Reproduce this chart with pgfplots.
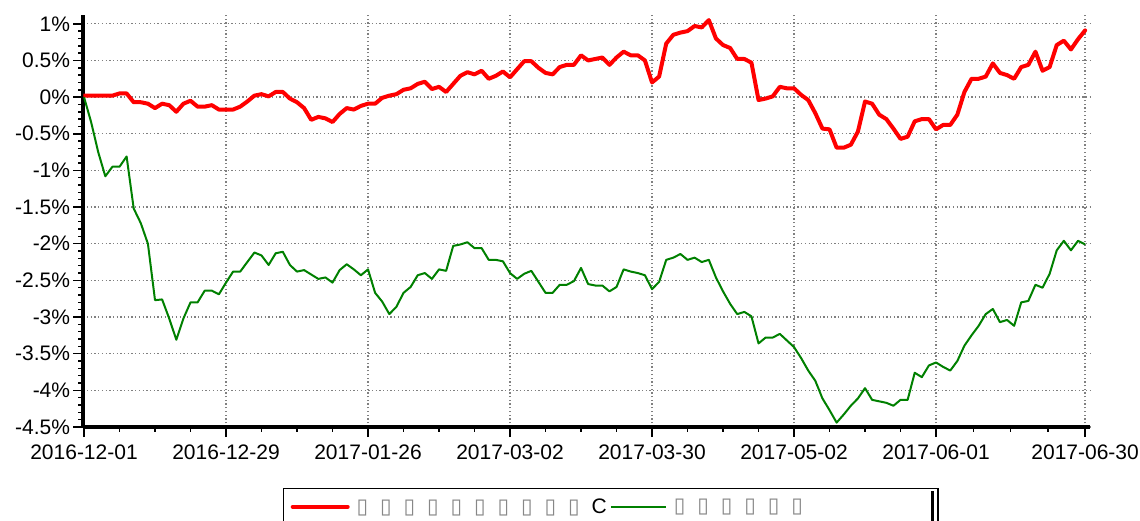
\documentclass[border=0pt]{standalone}
\usepackage{pgfplots}
\pgfplotsset{compat=1.18}
\usepackage{pgfplotstable}
\usepackage{fontspec}
\setmainfont{Liberation Sans}
\newfontfamily\dejavu{DejaVu Sans}
\definecolor{lgreen}{RGB}{0,128,0}
\definecolor{gridgray}{RGB}{128,128,128}
\definecolor{boxgray}{RGB}{135,135,135}
\newcommand{\bx}{\hbox to 23.5bp{\textcolor{boxgray}{\dejavu ▯}\hss}}

\pgfplotstableread{
i r g
0 0.02 0
1 0.02 -0.34
2 0.02 -0.75
3 0.02 -1.08
4 0.02 -0.95
5 0.05 -0.95
6 0.05 -0.81
7 -0.07 -1.52
8 -0.07 -1.72
9 -0.09 -2.00
10 -0.15 -2.77
11 -0.09 -2.76
12 -0.11 -3.02
13 -0.20 -3.31
14 -0.09 -3.02
15 -0.05 -2.80
16 -0.13 -2.80
17 -0.13 -2.64
18 -0.11 -2.64
19 -0.17 -2.69
20 -0.17 -2.53
21 -0.17 -2.38
22 -0.13 -2.38
23 -0.06 -2.25
24 0.02 -2.12
25 0.04 -2.16
26 0.01 -2.29
27 0.07 -2.13
28 0.07 -2.11
29 -0.02 -2.29
30 -0.07 -2.38
31 -0.15 -2.36
32 -0.31 -2.42
33 -0.27 -2.48
34 -0.29 -2.46
35 -0.34 -2.53
36 -0.23 -2.36
37 -0.15 -2.28
38 -0.17 -2.35
39 -0.12 -2.43
40 -0.09 -2.35
41 -0.09 -2.67
42 -0.01 -2.79
43 0.02 -2.96
44 0.04 -2.86
45 0.10 -2.67
46 0.12 -2.59
47 0.18 -2.43
48 0.21 -2.40
49 0.11 -2.48
50 0.14 -2.35
51 0.07 -2.37
52 0.18 -2.03
53 0.29 -2.01
54 0.34 -1.98
55 0.31 -2.06
56 0.36 -2.06
57 0.25 -2.22
58 0.29 -2.22
59 0.35 -2.24
60 0.27 -2.40
61 0.38 -2.48
62 0.49 -2.41
63 0.49 -2.37
64 0.40 -2.52
65 0.33 -2.67
66 0.31 -2.67
67 0.41 -2.56
68 0.44 -2.56
69 0.44 -2.51
70 0.57 -2.33
71 0.50 -2.55
72 0.52 -2.57
73 0.54 -2.57
74 0.44 -2.65
75 0.54 -2.59
76 0.62 -2.35
77 0.57 -2.38
78 0.57 -2.40
79 0.50 -2.43
80 0.20 -2.62
81 0.28 -2.52
82 0.73 -2.22
83 0.85 -2.19
84 0.88 -2.14
85 0.90 -2.22
86 0.97 -2.19
87 0.95 -2.25
88 1.05 -2.22
89 0.80 -2.46
90 0.71 -2.65
91 0.67 -2.82
92 0.52 -2.96
93 0.52 -2.93
94 0.47 -2.99
95 -0.04 -3.36
96 -0.02 -3.28
97 0.01 -3.28
98 0.14 -3.23
99 0.12 -3.32
100 0.12 -3.41
101 0.03 -3.56
102 -0.04 -3.73
103 -0.22 -3.87
104 -0.43 -4.11
105 -0.44 -4.27
106 -0.69 -4.44
107 -0.69 -4.33
108 -0.65 -4.21
109 -0.47 -4.11
110 -0.06 -3.97
111 -0.09 -4.13
112 -0.24 -4.15
113 -0.30 -4.17
114 -0.43 -4.21
115 -0.57 -4.13
116 -0.54 -4.13
117 -0.33 -3.76
118 -0.30 -3.82
119 -0.30 -3.66
120 -0.44 -3.62
121 -0.38 -3.68
122 -0.38 -3.73
123 -0.24 -3.60
124 0.07 -3.39
125 0.25 -3.25
126 0.25 -3.12
127 0.28 -2.96
128 0.46 -2.89
129 0.33 -3.07
130 0.30 -3.04
131 0.25 -3.12
132 0.41 -2.80
133 0.44 -2.78
134 0.62 -2.56
135 0.36 -2.60
136 0.41 -2.41
137 0.71 -2.09
138 0.77 -1.96
139 0.65 -2.09
140 0.79 -1.96
141 0.91 -2.01
}\data

\begin{document}
\begin{tikzpicture}
\useasboundingbox (0,0) rectangle (1140bp,521bp);
\clip (0,0) rectangle (1140bp,521bp);
\begin{axis}[
  at={(83.3bp,94bp)}, anchor=south west, scale only axis,
  width=1006.8bp, height=412bp,
  xmin=-0.1, xmax=141.7, ymin=-4.5, ymax=1.12,
  axis x line*=bottom, axis y line*=left,
  axis line style={-, black},
  x axis line style={line width=3.6bp},
  y axis line style={line width=3.6bp},
  xtick={0,20,40,60,80,100,120,141},
  xticklabels={2016-12-01,2016-12-29,2017-01-26,2017-03-02,2017-03-30,2017-05-02,2017-06-01,2017-06-30},
  minor xtick={5,10,15,25,30,35,45,50,55,65,70,75,85,90,95,105,110,115,125.25,130.5,135.75},
  ytick={-4.5,-4,-3.5,-3,-2.5,-2,-1.5,-1,-0.5,0,0.5,1},
  yticklabels={-4.5\%,-4\%,-3.5\%,-3\%,-2.5\%,-2\%,-1.5\%,-1\%,-0.5\%,0\%,0.5\%,1\%},
  minor y tick num=4,
  tick align=outside,
  major tick length=10bp, minor tick length=5bp,
  tick style={black, line width=1.5bp},
  grid=major,
  major grid style={gridgray, line width=1.3bp, dash pattern=on 1.3bp off 2.4bp},
  tick label style={font=\fontsize{21bp}{24bp}\selectfont, inner sep=0pt},
  yticklabel style={xshift=-3bp},
  xticklabel style={yshift=-8bp},
  legend columns=2,
  legend image code/.code={\draw[#1] (0bp,0bp) -- (55bp,0bp);},
  legend style={at={(axis description cs:0.1983,-0.148)}, anchor=north west,
    draw=black, line width=1.5bp, fill=white, inner xsep=7bp, inner ysep=10bp,
    font=\fontsize{21bp}{24bp}\selectfont,
    nodes={inner sep=0pt, anchor=west},
    /tikz/every odd column/.append style={column sep=7bp},
    /tikz/every even column/.append style={column sep=3bp}},
]
\addplot[red, line width=4bp, line join=round, line cap=round] table[x=i,y=r]{\data};
\addlegendentry{\bx\bx\bx\bx\bx\bx\bx\bx\bx\bx C}
\addplot[lgreen, line width=2bp, line join=round] table[x=i,y=g]{\data};
\addlegendentry{\makebox[257bp][l]{\bx\bx\bx\bx\bx\bx}}
\end{axis}
\fill[black] (930.8bp,0bp) rectangle (933.8bp,30bp);
\end{tikzpicture}
\end{document}
